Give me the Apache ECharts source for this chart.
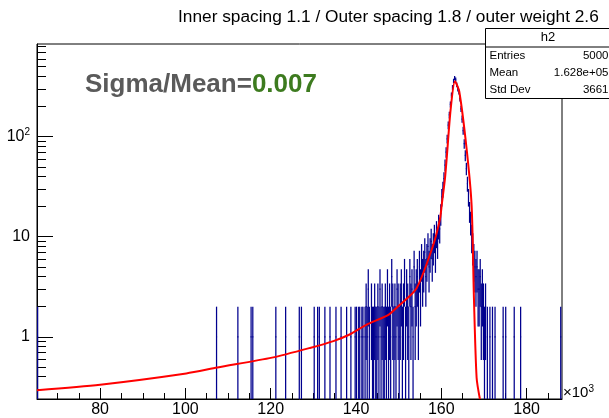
<!DOCTYPE html>
<html>
<head>
<meta charset="utf-8">
<script src="https://cdn.jsdelivr.net/npm/echarts@6/dist/echarts.min.js"></script>
<style>
html, body { margin: 0; padding: 0; background: #ffffff; }
#chart { width: 609px; height: 418px; }
</style>
</head>
<body>
<div id="chart"></div>
<script>
// Histogram h2 (counts per bin) with the fitted response curve, log-scale counts.
const titleText = 'Inner spacing 1.1 / Outer spacing 1.8 / outer weight 2.6';
const xRange = [65.2, 188.3];          // in units of 10^3
const yRange = [0.239, 843];
const xMajorTicks = [80, 100, 120, 140, 160, 180];
const xMinorTicks = [70, 75, 85, 90, 95, 105, 110, 115, 125, 130, 135, 145, 150, 155, 165, 170, 175, 185];
const yMajorTicks = [1, 10, 100];
const yMinorTicks = [0.3, 0.4, 0.5, 0.6, 0.7, 0.8, 0.9, 2, 3, 4, 5, 6, 7, 8, 9,
  20, 30, 40, 50, 60, 70, 80, 90, 200, 300, 400, 500, 600, 700, 800];
const binWidth = 0.25;

// Non-empty bins: centre (x10^3) and entries
const binCenters = [
  65.35, 107.3, 112.3, 115.4, 115.8, 121.2, 123.5, 126.7, 127.2, 130.2, 131.0, 131.4, 132.7, 133.9, 135.3,
  136.5, 137.8, 138.8, 139.8,
  140.125, 140.625, 140.875, 141.375, 141.625, 142.125, 142.375, 142.625, 142.875, 143.125, 143.625, 143.875,
  144.125, 144.375, 144.625, 144.875, 145.125, 145.375, 145.625, 145.875, 146.125, 146.375, 146.625, 146.875,
  147.125, 147.375, 147.625, 147.875, 148.125, 148.375, 148.625, 148.875, 149.125, 149.375, 149.625, 149.875,
  150.125, 150.375, 150.625, 150.875, 151.125, 151.375, 151.625, 151.875, 152.125, 152.375, 152.625, 152.875,
  153.125, 153.375, 153.625, 153.875, 154.125, 154.375, 154.625, 154.875, 155.125, 155.375, 155.625, 155.875,
  156.125, 156.375, 156.625, 156.875, 157.125, 157.375, 157.625, 157.875, 158.125, 158.375, 158.625, 158.875,
  159.125, 159.375, 159.625, 159.875, 160.125, 160.375, 160.625, 160.875, 161.125, 161.375, 161.625, 161.875,
  162.125, 162.375, 162.625, 162.875, 163.125, 163.375, 163.625, 163.875, 164.125, 164.375, 164.625, 164.875,
  165.125, 165.375, 165.625, 165.875, 166.125, 166.375, 166.625, 166.875, 167.125, 167.375, 167.625, 167.875,
  168.125, 168.375, 168.625, 168.875, 169.125, 169.375, 169.625, 169.875, 170.125, 170.375,
  170.8, 171.4, 172.0, 172.6, 174.5, 175.1, 177.1, 178.6, 188.0
];
const binCounts = [
  1, 1, 1, 1, 1, 1, 1, 1, 1, 1, 1, 1, 1, 1, 1,
  1, 1, 1, 1,
  1, 1, 1, 1, 1, 1, 2, 1, 3, 1, 2, 1,
  1, 2, 1, 1, 2, 1, 3, 1, 2, 1, 1, 2,
  1, 3, 1, 2, 1, 4, 2, 1, 2, 1, 3, 2,
  1, 2, 3, 1, 2, 4, 1, 3, 2, 1, 4, 2,
  3, 1, 5, 2, 3, 4, 2, 5, 3, 6, 4, 5,
  7, 4, 6, 8, 5, 7, 9, 6, 8, 10, 7, 11,
  9, 13, 12, 17, 25, 30, 38, 52, 70, 95, 130, 165,
  210, 260, 310, 360, 385, 370, 330, 300, 280, 240, 190, 150,
  115, 85, 65, 48, 34, 25, 18, 14, 10, 8, 6, 5,
  4, 5, 3, 3, 4, 2, 3, 2, 1, 2,
  1, 1, 1, 1, 1, 1, 1, 1, 1
];

// Fitted curve sampled along x (x10^3) and its value per bin
const fitX = [65.2, 80.0, 100.2, 107.5, 120.3, 129.4, 134.7, 138.5, 142.5, 147.6, 150.3, 154.2, 158.1,
  159.7, 160.08, 160.85, 161.25, 162.19, 163.2, 164.2, 165.94, 167.11, 167.65, 168.28, 169.05];
const fitY = [0.293, 0.332, 0.43, 0.493, 0.619, 0.778, 0.906, 1.054, 1.325, 1.66, 2.09, 3.06, 8.24,
  15.1, 20.5, 37.8, 59.7, 187, 357, 284, 75, 20.4, 2.44, 0.39, 0.239];

const statsName = 'h2';
const statsLabels = ['Entries', 'Mean', 'Std Dev'];
const statsValues = ['5000', '1.628e+05', '3661'];
const ratioLabel = 'Sigma/Mean=';
const ratioValue = '0.007';

const FONT = '"Liberation Sans", Arial, Helvetica, sans-serif';
const histColor = '#00008e';

const histData = binCenters.map((x, i) => [x, binCounts[i]]);
const fitData = fitX.map((x, i) => [x, fitY[i]]);

const chart = echarts.init(document.getElementById('chart'), null, { renderer: 'canvas' });

// Vertical Poisson error bar plus a horizontal bin-width segment at the bin content
function renderErrorBar(params, api) {
  const x = api.value(0);
  const n = api.value(1);
  const err = Math.sqrt(n);
  const lo = Math.max(n - err, yRange[0]);
  const hi = n + err;
  const pLo = api.coord([x, lo]);
  const pHi = api.coord([x, hi]);
  const pL = api.coord([x - binWidth / 2, n]);
  const pR = api.coord([x + binWidth / 2, n]);
  const style = { stroke: histColor, lineWidth: 1.25, fill: null };
  return {
    type: 'group',
    children: [
      { type: 'line', shape: { x1: pLo[0], y1: pLo[1], x2: pHi[0], y2: pHi[1] }, style: style },
      { type: 'line', shape: { x1: pL[0], y1: pL[1], x2: pR[0], y2: pR[1] }, style: style }
    ]
  };
}

const axisFont = { fontFamily: FONT, fontSize: 16, color: '#000000' };

const option = {
  animation: false,
  backgroundColor: '#ffffff',
  title: {
    text: titleText,
    left: 173, top: 4,
    textStyle: { fontFamily: FONT, fontSize: 17.3, fontWeight: 'normal', color: '#000000' }
  },
  grid: {
    left: 37, right: 47, top: 44, bottom: 16,
    show: true, borderColor: '#000000', borderWidth: 1, backgroundColor: 'transparent'
  },
  xAxis: [
    {
      type: 'value', min: xRange[0], max: xRange[1], position: 'bottom',
      axisLine: { show: true, onZero: false, lineStyle: { color: '#000000', width: 1 } },
      axisTick: { show: true, inside: true, length: 11, customValues: xMajorTicks, lineStyle: { color: '#000000' } },
      axisLabel: { show: true, customValues: xMajorTicks, margin: 3, ...axisFont },
      splitLine: { show: false }
    },
    {
      type: 'value', min: xRange[0], max: xRange[1], position: 'bottom', offset: 0,
      axisLine: { show: false },
      axisTick: { show: true, inside: true, length: 6, customValues: xMinorTicks, lineStyle: { color: '#000000' } },
      axisLabel: { show: false },
      splitLine: { show: false }
    }
  ],
  yAxis: [
    {
      type: 'log', logBase: 10, min: yRange[0], max: yRange[1], position: 'left',
      axisLine: { show: true, onZero: false, lineStyle: { color: '#000000', width: 1 } },
      axisTick: { show: true, inside: true, length: 16, customValues: yMajorTicks, lineStyle: { color: '#000000' } },
      axisLabel: {
        show: true, customValues: yMajorTicks, margin: 7, ...axisFont,
        formatter: v => (v >= 100 ? '{b|10}{s|' + Math.round(Math.log10(v)) + '}' : String(Math.round(v))),
        rich: {
          b: { fontFamily: FONT, fontSize: 16, color: '#000000' },
          s: { fontFamily: FONT, fontSize: 10, color: '#000000', verticalAlign: 'top', padding: [0, 0, 8, 0] }
        }
      },
      splitLine: { show: false }
    },
    {
      type: 'log', logBase: 10, min: yRange[0], max: yRange[1], position: 'left', offset: 0,
      axisLine: { show: false },
      axisTick: { show: true, inside: true, length: 9, customValues: yMinorTicks, lineStyle: { color: '#000000' } },
      axisLabel: { show: false },
      splitLine: { show: false }
    }
  ],
  series: [
    {
      name: 'h2', type: 'custom', xAxisIndex: 0, yAxisIndex: 0,
      renderItem: renderErrorBar, clip: true,
      encode: { x: 0, y: 1 },
      data: histData, z: 2
    },
    {
      name: 'fit', type: 'line', xAxisIndex: 0, yAxisIndex: 0,
      data: fitData, showSymbol: false, smooth: 0.25, clip: true,
      lineStyle: { color: '#ff0000', width: 2 }, z: 3
    }
  ],
  graphic: [
    {
      type: 'text', left: 85, top: 72, z: 10,
      style: {
        text: '{g|' + ratioLabel + '}{v|' + ratioValue + '}',
        rich: {
          g: { fontFamily: FONT, fontSize: 26, fontWeight: 'bold', fill: '#5a5a5a' },
          v: { fontFamily: FONT, fontSize: 26, fontWeight: 'bold', fill: '#3d7b1f' }
        }
      }
    },
    {
      type: 'text', left: 563, top: 384, z: 10,
      style: {
        text: '{m|×10}{e|3}',
        rich: {
          m: { fontFamily: FONT, fontSize: 15, fill: '#000000' },
          e: { fontFamily: FONT, fontSize: 10, fill: '#000000', verticalAlign: 'top', padding: [0, 0, 8, 0] }
        }
      }
    },
    {
      type: 'group', left: 483, top: 28, z: 20,
      children: [
        { type: 'rect', shape: { x: 0, y: 0, width: 125, height: 70 }, style: { fill: '#ffffff', stroke: '#000000', lineWidth: 1 } },
        { type: 'line', shape: { x1: 0, y1: 18.5, x2: 125, y2: 18.5 }, style: { stroke: '#000000', lineWidth: 1 } },
        { type: 'text', x: 62.5, y: 9, style: { text: statsName, fontFamily: FONT, fontSize: 13, fill: '#000000', align: 'center', verticalAlign: 'middle' } },
        ...statsLabels.map((t, i) => ({
          type: 'text', x: 4, y: 27.5 + i * 16.7,
          style: { text: t, fontFamily: FONT, fontSize: 11.5, fill: '#000000', align: 'left', verticalAlign: 'middle' }
        })),
        ...statsValues.map((t, i) => ({
          type: 'text', x: 123, y: 27.5 + i * 16.7,
          style: { text: t, fontFamily: FONT, fontSize: 11.5, fill: '#000000', align: 'right', verticalAlign: 'middle' }
        }))
      ]
    }
  ]
};

chart.setOption(option);
</script>
</body>
</html>
